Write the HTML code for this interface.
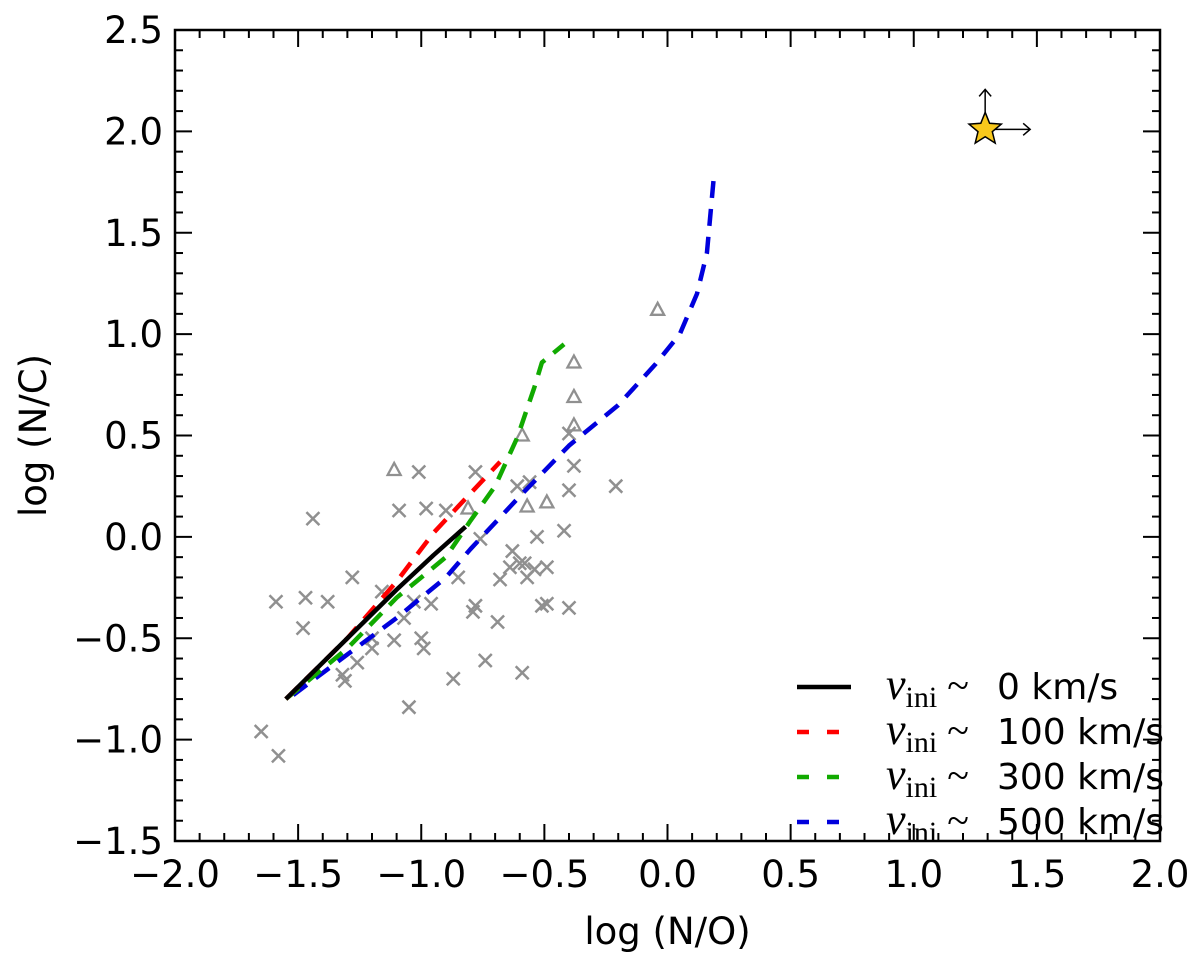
<!DOCTYPE html>
<html><head><meta charset="utf-8"><style>
html,body{margin:0;padding:0;background:#fff;}
svg{display:block;font-family:"DejaVu Sans","Liberation Sans",sans-serif;}
</style></head><body>
<svg id="chart" width="1200" height="957" viewBox="0 0 1200 957" xmlns="http://www.w3.org/2000/svg"></svg>
<script>
const xTicks=[-2.0,-1.5,-1.0,-0.5,0.0,0.5,1.0,1.5,2.0];
const yTicks=[-1.5,-1.0,-0.5,0.0,0.5,1.0,1.5,2.0,2.5];
const crossX=[-1.01,-0.78,-1.44,-1.09,-0.98,-0.90,-1.28,-1.59,-1.47,-1.38,-1.16,-1.03,-0.96,-1.07,-0.85,-0.78,-0.79,-0.69,-1.48,-1.20,-1.20,-1.11,-1.00,-0.99,-1.26,-1.32,-1.31,-0.87,-0.74,-1.05,-1.65,-1.58,-0.76,-0.63,-0.68,-0.64,-0.61,-0.56,-0.40,-0.38,-0.21,-0.40,-0.53,-0.42,-0.60,-0.58,-0.54,-0.49,-0.57,-0.51,-0.49,-0.40,-0.59];
const crossY=[0.32,0.32,0.09,0.13,0.14,0.13,-0.20,-0.32,-0.30,-0.32,-0.27,-0.32,-0.33,-0.40,-0.20,-0.34,-0.37,-0.42,-0.45,-0.50,-0.55,-0.51,-0.50,-0.55,-0.62,-0.68,-0.71,-0.70,-0.61,-0.84,-0.96,-1.08,-0.01,-0.07,-0.21,-0.15,0.25,0.27,0.23,0.35,0.25,0.51,0.00,0.03,-0.13,-0.13,-0.16,-0.15,-0.20,-0.34,-0.33,-0.35,-0.67];
const triX=[-1.11,-0.81,-0.38,-0.38,-0.38,-0.59,-0.57,-0.49,-0.04];
const triY=[0.33,0.14,0.86,0.69,0.55,0.50,0.15,0.17,1.12];
const v0X=[-1.55,-1.3,-1.1,-0.95,-0.82];
const v0Y=[-0.80,-0.50,-0.26,-0.09,0.05];
const v100X=[-1.55,-1.3,-1.1,-0.95,-0.85,-0.68];
const v100Y=[-0.80,-0.50,-0.22,0.02,0.15,0.37];
const v300X=[-1.55,-1.3,-1.1,-0.9,-0.8,-0.7,-0.61,-0.54,-0.51,-0.45,-0.42];
const v300Y=[-0.80,-0.55,-0.30,-0.10,0.08,0.25,0.49,0.74,0.86,0.92,0.95];
const v500X=[-1.52,-1.3,-1.1,-0.9,-0.8,-0.6,-0.4,-0.2,-0.05,0.05,0.12,0.16,0.19];
const v500Y=[-0.78,-0.58,-0.40,-0.20,-0.06,0.20,0.45,0.65,0.85,1.0,1.2,1.4,1.8];
const starX=[1.29], starY=[2.01];

const L=175,R=1160,T=30,B=841;
const sx=v=>L+(v+2)/4*(R-L);
const sy=v=>B-(v+1.5)/4*(B-T);
const svg=document.getElementById('chart');
const NS='http://www.w3.org/2000/svg';
function mk(tag,attrs,parent){const e=document.createElementNS(NS,tag);for(const k in attrs)e.setAttribute(k,attrs[k]);(parent||svg).appendChild(e);return e;}

const tg=mk('g',{});


for(let i=-20;i<=20;i++){const v=i/10;const x=sx(v);const len=(i%5===0)?17:8;
 mk('line',{x1:x,x2:x,y1:B,y2:B-len,stroke:'#000','stroke-width':2},tg);
 mk('line',{x1:x,x2:x,y1:T,y2:T+len,stroke:'#000','stroke-width':2},tg);}
for(let i=-15;i<=25;i++){const v=i/10;const y=sy(v);const len=(i%5===0)?17:8;
 mk('line',{x1:L,x2:L+len,y1:y,y2:y,stroke:'#000','stroke-width':2},tg);
 mk('line',{x1:R,x2:R-len,y1:y,y2:y,stroke:'#000','stroke-width':2},tg);}
xTicks.forEach(v=>{const t=mk('text',{x:sx(v),y:B+46,'text-anchor':'middle','font-size':37});t.textContent=(v<0?'\u2212':'')+Math.abs(v).toFixed(1);
 
 });
yTicks.forEach(v=>{const t=mk('text',{x:L-12,y:sy(v)+13,'text-anchor':'end','font-size':37});t.textContent=(v<0?'\u2212':'')+Math.abs(v).toFixed(1);
 
 });
const xt=mk('text',{x:(L+R)/2,y:944,'text-anchor':'middle','font-size':37});xt.textContent='log (N/O)';


const yt=mk('text',{x:0,y:0,'text-anchor':'middle','font-size':37,transform:`translate(46,${(T+B)/2}) rotate(-90)`});yt.textContent='log (N/C)';



crossX.forEach((v,i)=>{const x=sx(v),y=sy(crossY[i]);const p=mk('path',{d:`M${x-6.5},${y-6.5}L${x+6.5},${y+6.5}M${x-6.5},${y+6.5}L${x+6.5},${y-6.5}`,stroke:'#909090','stroke-width':2.5,fill:'none'});
 
 });
triX.forEach((v,i)=>{const x=sx(v),y=sy(triY[i]);const p=mk('path',{d:`M${x},${y-7}L${x+6.5},${y+5}L${x-6.5},${y+5}Z`,stroke:'#909090','stroke-width':2.3,fill:'none'});
 
 });

function line(xs,ys,color,dash,name){const d=xs.map((v,i)=>(i?'L':'M')+sx(v)+','+sy(ys[i])).join('');
 const p=mk('path',{d:d,stroke:color,'stroke-width':4.5,fill:'none','stroke-dasharray':dash||'none','stroke-linejoin':'round'});
 
 }
line(v500X,v500Y,'#0000dd','17,11','track-500kms');
line(v300X,v300Y,'#11aa00','17,11','track-300kms');
line(v100X,v100Y,'#ff0000','17,11','track-100kms');
line(v0X,v0Y,'#000','', 'track-0kms');

const cx=sx(starX[0]),cy=sy(starY[0]);
const sg=mk('g',{});


mk('path',{d:`M${cx},${cy}V${cy-40}M${cx-6},${cy-33}L${cx},${cy-40}L${cx+6},${cy-33}M${cx},${cy}H${cx+45}M${cx+38},${cy-6}L${cx+45},${cy}L${cx+38},${cy+6}`,stroke:'#000','stroke-width':1.5,fill:'none'},sg);
let pts=[];for(let k=0;k<10;k++){const r=k%2?7.5:17;const a=-Math.PI/2+k*Math.PI/5;pts.push((cx+r*Math.cos(a)).toFixed(1)+','+(cy+r*Math.sin(a)).toFixed(1));}
mk('polygon',{points:pts.join(' '),fill:'#f8c81c',stroke:'#000','stroke-width':1.5},sg);

mk('rect',{x:L,y:T,width:R-L,height:B-T,fill:'none',stroke:'#000','stroke-width':2.5});

const lg=mk('g',{});


const legC=['#000','#ff0000','#11aa00','#0000dd'];
const legT=['0 km/s','100 km/s','300 km/s','500 km/s'];
legT.forEach((s,i)=>{const y=687+i*45;
 const e=mk('g',{},lg);
 
 
 mk('line',{x1:797,x2:851,y1:y,y2:y,stroke:legC[i],'stroke-width':4.5,'stroke-dasharray':i?'12,18':'none'},e);
 const t=mk('text',{x:886,y:y+12,'font-size':36},e);
 t.innerHTML=`<tspan font-family="Liberation Serif, serif" font-style="italic" font-size="44">v</tspan><tspan font-family="Liberation Serif, serif" font-size="30" dy="8">ini</tspan><tspan dy="-8" font-family="Liberation Serif, serif" font-size="40"> ~ </tspan><tspan x="997">${s}</tspan>`;});
</script>
</body></html>
